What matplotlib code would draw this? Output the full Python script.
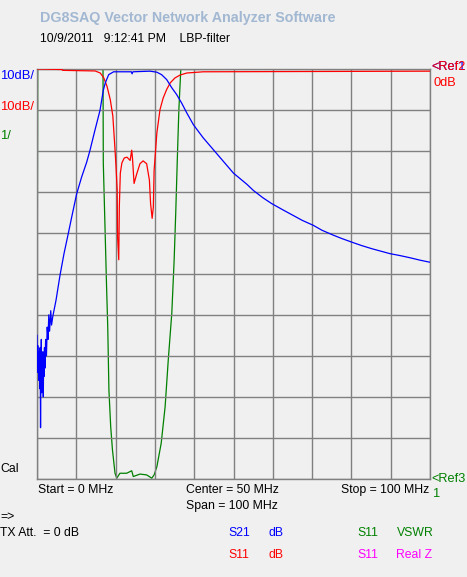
import matplotlib
matplotlib.use("Agg")
import matplotlib.pyplot as plt

W, H = 467, 577

# ---- data ----
s21_freq = [0.0, 0.1, 0.2, 0.3, 0.4, 0.5, 0.6, 0.7, 0.8, 0.9, 1.0, 1.1, 1.2, 1.3, 1.4, 1.5,
            1.6, 1.7, 1.8, 1.9, 2.0, 2.2, 2.4, 2.6, 2.8, 3.0, 3.2, 3.5, 3.7, 4.0, 4.83,
            5.85, 6.87, 7.96, 8.83, 10.1, 11.37, 12.65, 13.49, 14.7, 16.03, 16.87, 17.38,
            18.24, 19.5, 24.0, 24.2, 24.4, 28.75, 30.5, 31.7, 33.0, 34.3, 35.5, 36.8, 38.1,
            39.8, 42.3, 44.9, 47.4, 50.0, 53.4, 55.05, 57.5, 59.7, 62.5, 65.2, 67.5, 70.3,
            72.5, 75.4, 77.5, 80.1, 82.5, 85.2, 87.5, 89.8, 92.5, 94.9, 97.5, 100.0]
s21_db = [-65.0, -74.0, -67.5, -72.5, -69.0, -76.0, -71.0, -78.0, -68.0, -87.5, -73.0, -66.0,
          -79.0, -70.0, -77.0, -69.0, -80.0, -70.0, -75.0, -68.0, -73.0, -66.0, -70.0, -63.0,
          -66.0, -60.0, -64.0, -59.0, -62.5, -60.5, -56.5, -50.4, -45.1, -40.2, -36.2, -30.5,
          -26.4, -22.8, -19.9, -15.2, -10.2, -5.3, -3.5, -1.5, -0.8, -0.8, -1.3, -0.8, -0.65,
          -0.9, -1.5, -2.7, -4.7, -6.3, -8.4, -10.8, -13.7, -16.9, -19.8, -22.6, -25.5,
          -28.2, -29.7, -31.5, -32.9, -34.4, -35.8, -37.0, -38.2, -39.4, -40.6, -41.4, -42.3,
          -43.1, -43.9, -44.5, -45.1, -45.6, -46.1, -46.7, -47.2]

s11_freq = [0.0, 6.4, 6.5, 14.8, 16.1, 17.0, 17.8, 18.65, 19.3, 19.8, 20.1, 20.4, 20.5, 20.8,
            20.95, 21.2, 21.6, 22.2, 22.9, 23.7, 24.1, 24.3, 24.7, 25.4, 26.2, 27.0, 27.9,
            28.6, 28.9, 29.3, 29.6, 29.8, 30.5, 31.3, 32.1, 33.0, 33.9, 35.1, 36.4, 38.1,
            42.3, 100.0]
s11_db = [-0.1, -0.25, -0.45, -0.6, -1.1, -2.3, -4.3, -7.6, -11.6, -19.0, -23.8, -29.5,
          -40.9, -46.6, -33.6, -25.5, -23.0, -21.8, -21.6, -22.4, -19.9, -21.9, -28.0, -25.6,
          -23.2, -22.5, -23.2, -27.2, -32.9, -36.5, -33.8, -24.8, -15.7, -10.0, -7.2, -5.1,
          -3.5, -2.3, -1.6, -1.1, -0.8, -0.65]

vswr_freq = [0.0, 0.25, 16.7, 16.87, 17.3, 17.7, 18.0, 18.3, 18.75, 19.2, 19.85, 20.3, 21.1,
             22.8, 24.1, 24.5, 26.2, 27.9, 29.2, 29.8, 30.5, 31.6, 32.6, 33.4, 34.3, 34.9,
             35.3, 35.7, 36.1, 36.6, 37.0, 100.0]
vswr = [3.3, 14.0, 14.0, 8.7, 7.15, 5.69, 4.71, 3.17, 2.28, 1.71, 1.14, 1.02, 1.14, 1.14,
        1.2, 1.06, 1.12, 1.1, 1.02, 1.1, 1.3, 1.87, 2.76, 3.9, 5.04, 6.34, 7.48, 8.78,
        10.0, 11.0, 14.0, 14.0]

BG = "#f0f0f0"
fig = plt.figure(figsize=(W / 100, H / 100), dpi=100, facecolor=BG)
plt.rcParams['font.family'] = ['Liberation Sans', 'DejaVu Sans']

L, R, T, B = 37, 430, 68.5, 479
ax = fig.add_axes([L / W, 1 - B / H, (R - L) / W, (B - T) / H])
ax.set_xlim(0, 100)
ax.set_ylim(-100, 0)
ax.set_xticks(range(0, 101, 10))
ax.set_yticks(range(-100, 1, 10))
ax.tick_params(length=0, labelleft=False, labelbottom=False)
ax.grid(True, color="#808080", lw=1.0)
for s in ax.spines.values():
    s.set_color("#808080")
    s.set_linewidth(1.0)

ax2 = ax.twinx()
ax2.set_ylim(1, 11)
ax2.set_yticks([])
for s in ax2.spines.values():
    s.set_visible(False)

lw = 0.9
ax2.plot(vswr_freq, vswr, color="#008000", lw=lw, zorder=3)
ax.plot(s11_freq, s11_db, color="#ff0000", lw=lw, zorder=3)
ax.plot(s21_freq, s21_db, color="#0000ff", lw=lw, zorder=4)
ax.set_zorder(2)
ax2.set_zorder(1)
ax.patch.set_visible(False)
ax2.patch.set_facecolor(BG)


def txt(x, y, s, color="black", size=8.8, **kw):
    fig.text(x / W, 1 - y / H, s, color=color, fontsize=size, va="center", **kw)


txt(40, 18, "DG8SAQ Vector Network Analyzer Software", color="#a2b8d2", size=10.3,
    fontweight="bold")
txt(40, 38.5, "10/9/2011   9:12:41 PM    LBP-filter")
txt(0, 76, "10dB/", color="#0000ff", size=9.4)
txt(0, 106.5, "10dB/", color="#ff0000", size=9.4)
txt(0, 136, "1/", color="#008000", size=9.4)
txt(0, 469, "Cal")
txt(431.5, 67, "<Ref1", color="#0000ff", size=9.2)
txt(431.5, 67, "<Ref2", color="#ff0000", size=9.2)
txt(433, 83, "0dB", color="#ff0000", size=9.2)
txt(431.5, 479, "<Ref3", color="#008000", size=9.2)
txt(433, 494, "1", color="#008000", size=9.2)
txt(37.5, 490, "Start = 0 MHz")
txt(185.5, 490, "Center = 50 MHz")
txt(429.5, 490, "Stop = 100 MHz", ha="right")
txt(185.5, 506, "Span = 100 MHz")
txt(0, 517, "=>")
txt(0, 533, "TX Att.  = 0 dB")
txt(228.5, 533, "S21", color="#0000ff")
txt(268.5, 533, "dB", color="#0000ff")
txt(357, 533, "S11", color="#008000")
txt(396.5, 533, "VSWR", color="#008000")
txt(228.5, 555, "S11", color="#ff0000")
txt(268.5, 555, "dB", color="#ff0000")
txt(357, 555, "S11", color="#ff00ff")
txt(396.5, 555, "Real Z", color="#ff00ff")

fig.savefig("out.png", dpi=100, facecolor=BG)
